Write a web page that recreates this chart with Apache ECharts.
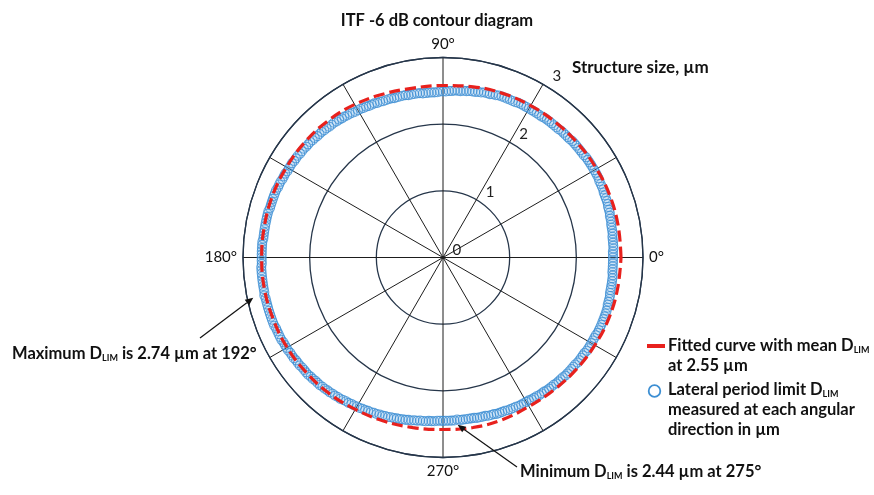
<!DOCTYPE html>
<html>
<head>
<meta charset="utf-8">
<title>ITF -6 dB contour diagram</title>
<script src="https://cdn.jsdelivr.net/npm/echarts@6/dist/echarts.min.js"></script>
<style>
  html, body { margin: 0; padding: 0; background: #ffffff; }
  #chart { width: 874px; height: 495px; }
</style>
</head>
<body>
<div id="chart"></div>
<script>
// Angle labels shown on the outer ring and radial scale (µm)
const angleLabels = [0, 90, 180, 270];
const radiusTicks = [0, 1, 2, 3];

// Lateral period limit D_LIM (µm), one value per degree, starting at 0°
const measuredDlim = [
  2.55, 2.55, 2.55, 2.56, 2.56, 2.56, 2.56, 2.56, 2.57, 2.57,
  2.57, 2.57, 2.58, 2.58, 2.58, 2.59, 2.59, 2.59, 2.60, 2.60,
  2.60, 2.60, 2.60, 2.61, 2.61, 2.61, 2.61, 2.62, 2.62, 2.62,
  2.62, 2.62, 2.62, 2.62, 2.62, 2.62, 2.61, 2.61, 2.61, 2.61,
  2.61, 2.61, 2.61, 2.60, 2.60, 2.60, 2.60, 2.60, 2.59, 2.59,
  2.59, 2.59, 2.59, 2.59, 2.59, 2.58, 2.58, 2.58, 2.58, 2.58,
  2.58, 2.58, 2.58, 2.58, 2.58, 2.57, 2.57, 2.57, 2.57, 2.57,
  2.57, 2.57, 2.56, 2.56, 2.55, 2.55, 2.55, 2.54, 2.54, 2.53,
  2.53, 2.53, 2.52, 2.52, 2.51, 2.51, 2.51, 2.50, 2.50, 2.49,
  2.49, 2.49, 2.48, 2.48, 2.48, 2.48, 2.48, 2.48, 2.49, 2.49,
  2.49, 2.49, 2.49, 2.50, 2.50, 2.50, 2.50, 2.50, 2.51, 2.51,
  2.51, 2.51, 2.52, 2.52, 2.53, 2.53, 2.53, 2.54, 2.54, 2.55,
  2.55, 2.55, 2.56, 2.57, 2.57, 2.58, 2.58, 2.59, 2.59, 2.60,
  2.60, 2.60, 2.61, 2.61, 2.62, 2.62, 2.62, 2.63, 2.63, 2.64,
  2.64, 2.64, 2.65, 2.65, 2.65, 2.66, 2.66, 2.66, 2.67, 2.67,
  2.67, 2.67, 2.68, 2.68, 2.68, 2.69, 2.69, 2.69, 2.70, 2.70,
  2.70, 2.70, 2.70, 2.70, 2.70, 2.71, 2.71, 2.71, 2.71, 2.71,
  2.71, 2.71, 2.71, 2.71, 2.71, 2.72, 2.72, 2.72, 2.72, 2.72,
  2.72, 2.72, 2.72, 2.73, 2.73, 2.73, 2.73, 2.73, 2.73, 2.73,
  2.73, 2.73, 2.74, 2.73, 2.73, 2.73, 2.73, 2.73, 2.73, 2.73,
  2.73, 2.73, 2.73, 2.72, 2.72, 2.72, 2.72, 2.72, 2.71, 2.71,
  2.71, 2.71, 2.70, 2.70, 2.70, 2.69, 2.69, 2.69, 2.68, 2.68,
  2.68, 2.68, 2.67, 2.67, 2.66, 2.66, 2.66, 2.65, 2.65, 2.64,
  2.64, 2.63, 2.63, 2.62, 2.62, 2.61, 2.60, 2.60, 2.59, 2.59,
  2.58, 2.58, 2.57, 2.57, 2.56, 2.56, 2.55, 2.55, 2.54, 2.54,
  2.53, 2.53, 2.52, 2.52, 2.51, 2.51, 2.50, 2.50, 2.49, 2.49,
  2.48, 2.48, 2.47, 2.47, 2.47, 2.46, 2.46, 2.46, 2.45, 2.45,
  2.45, 2.45, 2.45, 2.45, 2.45, 2.44, 2.45, 2.45, 2.45, 2.45,
  2.45, 2.45, 2.46, 2.46, 2.46, 2.46, 2.47, 2.47, 2.47, 2.48,
  2.48, 2.48, 2.48, 2.49, 2.49, 2.49, 2.49, 2.50, 2.50, 2.50,
  2.50, 2.50, 2.51, 2.51, 2.51, 2.52, 2.52, 2.52, 2.53, 2.53,
  2.53, 2.53, 2.54, 2.54, 2.54, 2.54, 2.55, 2.55, 2.55, 2.55,
  2.55, 2.55, 2.56, 2.56, 2.56, 2.56, 2.56, 2.57, 2.57, 2.57,
  2.57, 2.57, 2.57, 2.57, 2.58, 2.58, 2.58, 2.58, 2.58, 2.58,
  2.58, 2.58, 2.58, 2.58, 2.57, 2.57, 2.57, 2.57, 2.56, 2.56,
  2.56, 2.56, 2.56, 2.56, 2.56, 2.55, 2.55, 2.55, 2.55, 2.55
];

// Fitted curve (µm) sampled every 10°, closed back at 360°
const fittedAngles = [
  0, 10, 20, 30, 40, 50, 60, 70, 80, 90, 100, 110, 120, 130, 140, 150, 160, 170,
  180, 190, 200, 210, 220, 230, 240, 250, 260, 270, 280, 290, 300, 310, 320, 330, 340, 350, 360
];
const fittedDlim = [
  2.67, 2.67, 2.67, 2.66, 2.65, 2.64, 2.63, 2.62, 2.60, 2.58, 2.58, 2.61, 2.65, 2.68, 2.70, 2.71, 2.72, 2.72,
  2.72, 2.72, 2.71, 2.70, 2.68, 2.66, 2.63, 2.61, 2.59, 2.58, 2.59, 2.59, 2.58, 2.59, 2.61, 2.63, 2.65, 2.66, 2.67
];

// Annotated extremes
const maxPoint = { value: 2.74, angle: 192 };
const minPoint = { value: 2.44, angle: 275 };

const FONT = 'Lato, "Open Sans", "DejaVu Sans", sans-serif';
const BLUE = '#3d8fd3';
const RED = '#e8211d';
const GRID = '#26364a';
const CENTER = [443, 257.5];
const RADIUS = 200;
// the scale labels sit a little beyond their rings
const LABEL_SHIFT = 9;

const chart = echarts.init(document.getElementById('chart'), null, { renderer: 'canvas' });

const subRich = {
  sub: { fontSize: 9, fontWeight: 'bold', fontFamily: FONT, verticalAlign: 'bottom', lineHeight: 10 }
};

const option = {
  animation: false,
  backgroundColor: '#ffffff',
  title: {
    text: 'ITF -6 dB contour diagram',
    left: 'center',
    top: 6,
    textStyle: { fontFamily: FONT, fontSize: 16.5, fontWeight: 'bold', color: '#111', lineHeight: 20 }
  },
  polar: [
    { center: CENTER, radius: RADIUS },
    // carries the radial scale labels along the 60° spoke
    { center: CENTER, radius: RADIUS + LABEL_SHIFT }
  ],
  angleAxis: [
    {
      polarIndex: 0,
      type: 'value',
      min: 0,
      max: 360,
      interval: 30,
      startAngle: 0,
      clockwise: false,
      axisLine: { show: true, lineStyle: { color: GRID, width: 1.3 } },
      axisTick: { show: false },
      splitLine: { show: true, lineStyle: { color: '#1d1d1d', width: 1 } },
      axisLabel: {
        margin: 6,
        fontFamily: FONT,
        fontSize: 15,
        color: '#111',
        formatter: v => (angleLabels.includes(v) ? v + '°' : '')
      }
    },
    {
      polarIndex: 1,
      type: 'value',
      min: 0,
      max: 360,
      startAngle: 60,
      clockwise: false,
      show: false
    }
  ],
  radiusAxis: [
    {
      polarIndex: 0,
      min: radiusTicks[0],
      max: radiusTicks[radiusTicks.length - 1],
      interval: 1,
      axisLine: { show: false },
      axisTick: { show: false },
      axisLabel: { show: false },
      splitLine: { show: true, lineStyle: { color: GRID, width: 1.3 } }
    },
    {
      polarIndex: 1,
      min: -LABEL_SHIFT / (RADIUS / 3),
      max: radiusTicks[radiusTicks.length - 1],
      axisLine: { show: false },
      axisTick: { show: false },
      splitLine: { show: false },
      axisLabel: {
        show: true,
        margin: 0,
        align: 'left',
        verticalAlign: 'middle',
        padding: [16, 0, 0, 5],
        customValues: radiusTicks,
        fontFamily: FONT,
        fontSize: 15,
        color: '#222'
      }
    }
  ],
  series: [
    {
      name: 'Lateral period limit',
      type: 'scatter',
      coordinateSystem: 'polar',
      polarIndex: 0,
      symbol: 'circle',
      symbolSize: 9,
      silent: true,
      itemStyle: { color: 'rgba(100,165,225,0.14)', borderColor: BLUE, borderWidth: 1.1 },
      data: measuredDlim.map((r, deg) => [r, deg]),
      z: 3
    },
    {
      name: 'Fitted curve',
      type: 'line',
      coordinateSystem: 'polar',
      polarIndex: 0,
      smooth: 0.4,
      showSymbol: false,
      silent: true,
      lineStyle: { color: RED, width: 3.2, type: [11, 5] },
      data: fittedAngles.map((a, i) => [fittedDlim[i], a]),
      z: 4
    }
  ]
};

chart.setOption(option);

// Arrow from an annotation to a polar position
function arrow(from, to) {
  const dx = to[0] - from[0], dy = to[1] - from[1];
  const len = Math.hypot(dx, dy);
  const ux = dx / len, uy = dy / len;
  const headLen = 8, headW = 3.5;
  const bx = to[0] - ux * headLen, by = to[1] - uy * headLen;
  return [
    { type: 'line', shape: { x1: from[0], y1: from[1], x2: bx, y2: by }, style: { stroke: '#111', lineWidth: 1.2 }, z: 10 },
    { type: 'polygon', shape: { points: [[to[0], to[1]], [bx - uy * headW, by + ux * headW], [bx + uy * headW, by - ux * headW]] }, style: { fill: '#111' }, z: 10 }
  ];
}

const maxTip = chart.convertToPixel({ polarIndex: 0 }, [maxPoint.value + 0.17, maxPoint.angle]);
const minTip = chart.convertToPixel({ polarIndex: 0 }, [minPoint.value + 0.08, minPoint.angle]);

const textBase = { fontFamily: FONT, fontSize: 16.5, fontWeight: 'bold', fill: '#111', verticalAlign: 'middle', align: 'left', rich: subRich };
const legendText = Object.assign({}, textBase, { fontSize: 16.5 });

chart.setOption({
  graphic: [
    { type: 'text', style: Object.assign({}, textBase, { x: 572, y: 68, fontSize: 17, text: 'Structure size, µm' }) },
    { type: 'text', style: Object.assign({}, textBase, { x: 12, y: 354, text: 'Maximum D{sub|LIM} is ' + maxPoint.value.toFixed(2) + ' µm at ' + maxPoint.angle + '°' }) },
    { type: 'text', style: Object.assign({}, textBase, { x: 520, y: 472, text: 'Minimum D{sub|LIM} is ' + minPoint.value.toFixed(2) + ' µm at ' + minPoint.angle + '°' }) },
    ...arrow([200, 338], maxTip),
    ...arrow([517, 467], minTip),
    // legend
    { type: 'line', shape: { x1: 647, y1: 346, x2: 665, y2: 346 }, style: { stroke: RED, lineWidth: 4 } },
    { type: 'text', style: Object.assign({}, legendText, { x: 668, y: 346, text: 'Fitted curve with mean D{sub|LIM}' }) },
    { type: 'text', style: Object.assign({}, legendText, { x: 668, y: 366, text: 'at 2.55 µm' }) },
    { type: 'circle', shape: { cx: 654.5, cy: 391, r: 5.8 }, style: { fill: 'none', stroke: BLUE, lineWidth: 1.8 } },
    { type: 'text', style: Object.assign({}, legendText, { x: 668, y: 390, text: 'Lateral period limit D{sub|LIM}' }) },
    { type: 'text', style: Object.assign({}, legendText, { x: 668, y: 410, text: 'measured at each angular' }) },
    { type: 'text', style: Object.assign({}, legendText, { x: 668, y: 430, text: 'direction in µm' }) }
  ]
});
</script>
</body>
</html>
